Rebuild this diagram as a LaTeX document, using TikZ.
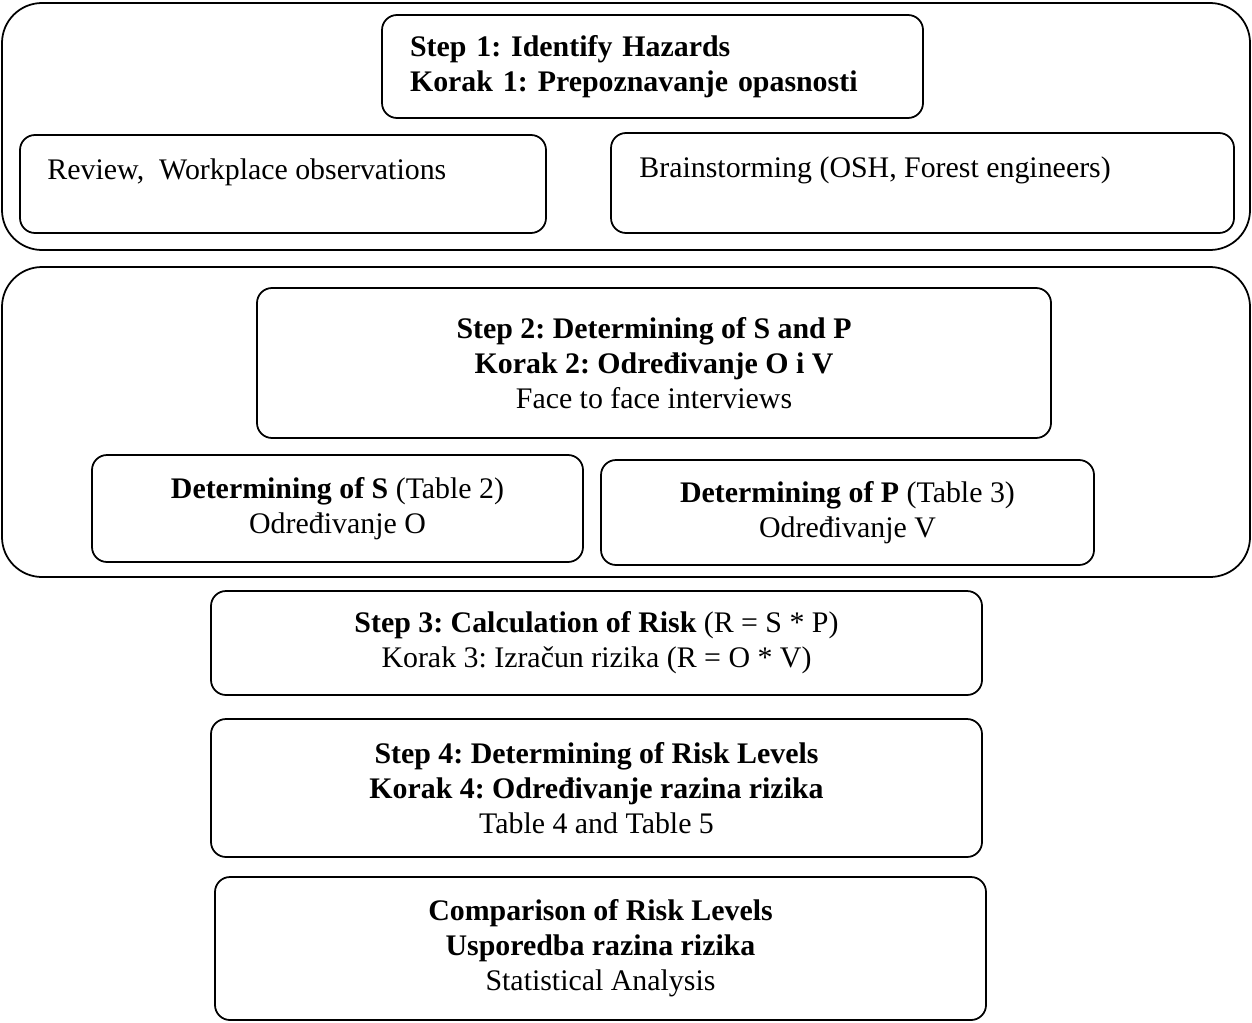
\documentclass[tikz,border=0pt]{standalone}
\usepackage{fontspec}
\setmainfont{Liberation Serif}
\frenchspacing
\usetikzlibrary{calc}

\begin{document}
\begin{tikzpicture}[
  every node/.style={font=\fontsize{17}{20}\selectfont},
  group/.style={rectangle, rounded corners=0.8cm, draw=black, line width=1pt,
    minimum width=24.96cm},
  stepbox/.style={rectangle, rounded corners=0.3cm, draw=black, line width=1pt,
    align=center},
  notebox/.style={rectangle, rounded corners=0.3cm, draw=black, line width=1pt},
  notetext/.style={anchor=base west, inner sep=0pt},
]
\useasboundingbox (0,0) rectangle (25.04,-20.44);

% Groups
\node[group, minimum height=4.94cm] (group1) at (12.52,-2.53) {};
\node[group, minimum height=6.2cm] (group2) at (12.52,-8.44) {};

% Step 1
\node[stepbox, align=left, inner xsep=0.56cm, inner ysep=0.2cm, text width=9.7cm,
  minimum width=10.82cm, minimum height=2.06cm] (step1) at (13.05,-1.33)
  {\textbf{Step 1: Identify Hazards}\\\textbf{Korak 1: Prepoznavanje opasnosti}};
\node[notebox, minimum width=10.52cm, minimum height=1.96cm] (review) at (5.66,-3.68) {};
\node[notebox, minimum width=12.46cm, minimum height=2.0cm] (brainstorm) at (18.45,-3.66) {};
\node[notetext] (reviewtext) at ($(review.north west)+(0.56,-0.90)$)
  {Review,\ \ Workplace observations};
\node[notetext] (brainstormtext) at ($(brainstorm.north west)+(0.58,-0.90)$)
  {Brainstorming (OSH, Forest engineers)};

% Step 2
\node[stepbox, minimum width=15.88cm, minimum height=3.0cm] (step2) at (13.08,-7.26)
  {\textbf{Step 2: Determining of S and P}\\\textbf{Korak 2: Određivanje O i V}\\Face to face interviews};
\node[stepbox, minimum width=9.82cm, minimum height=2.14cm] (detS) at (6.75,-10.17)
  {\textbf{Determining of S} (Table 2)\\Određivanje O};
\node[stepbox, minimum width=9.86cm, minimum height=2.1cm] (detP) at (16.95,-10.25)
  {\textbf{Determining of P} (Table 3)\\Određivanje V};

% Step 3 and Step 4
\node[stepbox, minimum width=15.42cm, minimum height=2.08cm] (step3) at (11.93,-12.86)
  {\textbf{Step 3: Calculation of Risk} (R = S * P)\\Korak 3: Izračun rizika (R = O * V)};
\node[stepbox, minimum width=15.42cm, minimum height=2.76cm] (step4) at (11.93,-15.76)
  {\textbf{Step 4: Determining of Risk Levels}\\\textbf{Korak 4: Određivanje razina rizika}\\Table 4 and Table 5};

% Comparison
\node[stepbox, minimum width=15.42cm, minimum height=2.86cm] (compare) at (12.01,-18.97)
  {\textbf{Comparison of Risk Levels}\\\textbf{Usporedba razina rizika}\\Statistical Analysis};
\end{tikzpicture}
\end{document}
